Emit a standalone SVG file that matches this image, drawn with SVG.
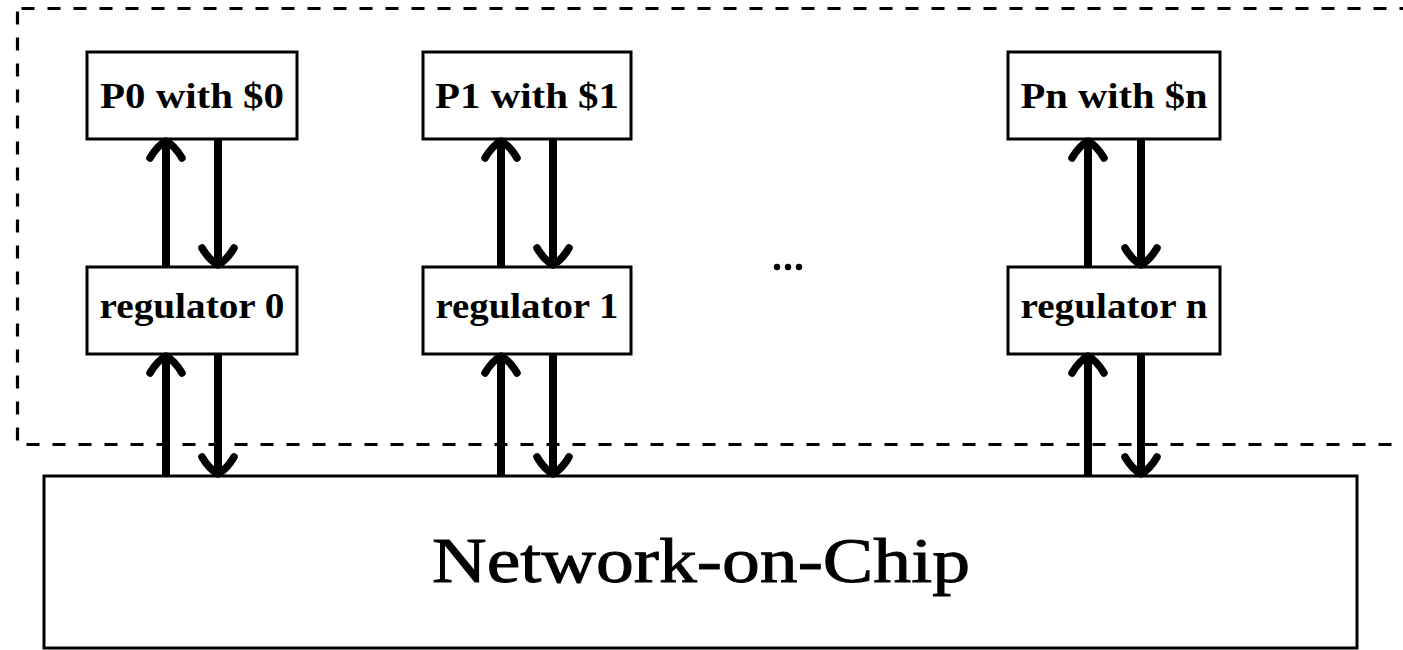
<svg xmlns="http://www.w3.org/2000/svg" width="1403" height="650" viewBox="0 0 1403 650">
<style>
.box{fill:#fff;stroke:#000;stroke-width:3}
.lbl{font-family:"Liberation Serif","Times New Roman",serif;font-weight:bold;font-size:35px;text-anchor:middle;fill:#000}
.big{font-family:"Liberation Serif","Times New Roman",serif;font-size:63px;text-anchor:middle;fill:#000;stroke:#000;stroke-width:0.9}
.arr{stroke:#000;stroke-width:8;fill:none;marker-end:url(#head)}
</style>
<defs>
<marker id="head" markerUnits="userSpaceOnUse" orient="auto" refX="0" refY="0" markerWidth="60" markerHeight="60" viewBox="-30 -30 60 60" overflow="visible">
<path d="M-17,-16 Q-5,-9 0,0 Q-5,9 -17,16" fill="none" stroke="#000" stroke-width="7.5" stroke-linecap="round" stroke-linejoin="round"/>
</marker>
</defs>
<rect id="boundary" x="17.5" y="8.5" width="1420" height="436" fill="none" stroke="#000" stroke-width="3.2" stroke-dasharray="13 13" stroke-dashoffset="-4"/>
<g id="p0"><rect class="box" x="87" y="52" width="210" height="87"/><text class="lbl" x="192" y="108" textLength="184" lengthAdjust="spacingAndGlyphs">P0 with $0</text></g>
<g id="p1"><rect class="box" x="423" y="52" width="208" height="87"/><text class="lbl" x="527" y="108" textLength="184" lengthAdjust="spacingAndGlyphs">P1 with $1</text></g>
<g id="pn"><rect class="box" x="1008" y="52" width="212" height="87"/><text class="lbl" x="1114" y="108" textLength="187" lengthAdjust="spacingAndGlyphs">Pn with $n</text></g>
<g id="reg0"><rect class="box" x="87" y="267" width="210" height="87"/><text class="lbl" x="192" y="318" textLength="185" lengthAdjust="spacingAndGlyphs">regulator 0</text></g>
<g id="reg1"><rect class="box" x="423" y="267" width="208" height="87"/><text class="lbl" x="527" y="318" textLength="183" lengthAdjust="spacingAndGlyphs">regulator 1</text></g>
<g id="regn"><rect class="box" x="1008" y="267" width="212" height="87"/><text class="lbl" x="1114" y="318" textLength="187" lengthAdjust="spacingAndGlyphs">regulator n</text></g>
<g id="ellipsis"><circle cx="777" cy="267" r="3.2"/><circle cx="788" cy="267" r="3.2"/><circle cx="799" cy="267" r="3.2"/></g>
<g id="noc"><rect class="box" x="44" y="476" width="1313" height="172"/><text class="big" x="701" y="582" textLength="538" lengthAdjust="spacingAndGlyphs">Network-on-Chip</text></g>
<g id="connectors">
<line class="arr" x1="166" y1="267" x2="166" y2="141"/>
<line class="arr" x1="218" y1="139" x2="218" y2="265"/>
<line class="arr" x1="166" y1="476" x2="166" y2="356"/>
<line class="arr" x1="218" y1="354" x2="218" y2="474"/>
<line class="arr" x1="501" y1="267" x2="501" y2="141"/>
<line class="arr" x1="553" y1="139" x2="553" y2="265"/>
<line class="arr" x1="501" y1="476" x2="501" y2="356"/>
<line class="arr" x1="553" y1="354" x2="553" y2="474"/>
<line class="arr" x1="1088" y1="267" x2="1088" y2="141"/>
<line class="arr" x1="1141" y1="139" x2="1141" y2="265"/>
<line class="arr" x1="1088" y1="476" x2="1088" y2="356"/>
<line class="arr" x1="1141" y1="354" x2="1141" y2="474"/>
</g>
</svg>
